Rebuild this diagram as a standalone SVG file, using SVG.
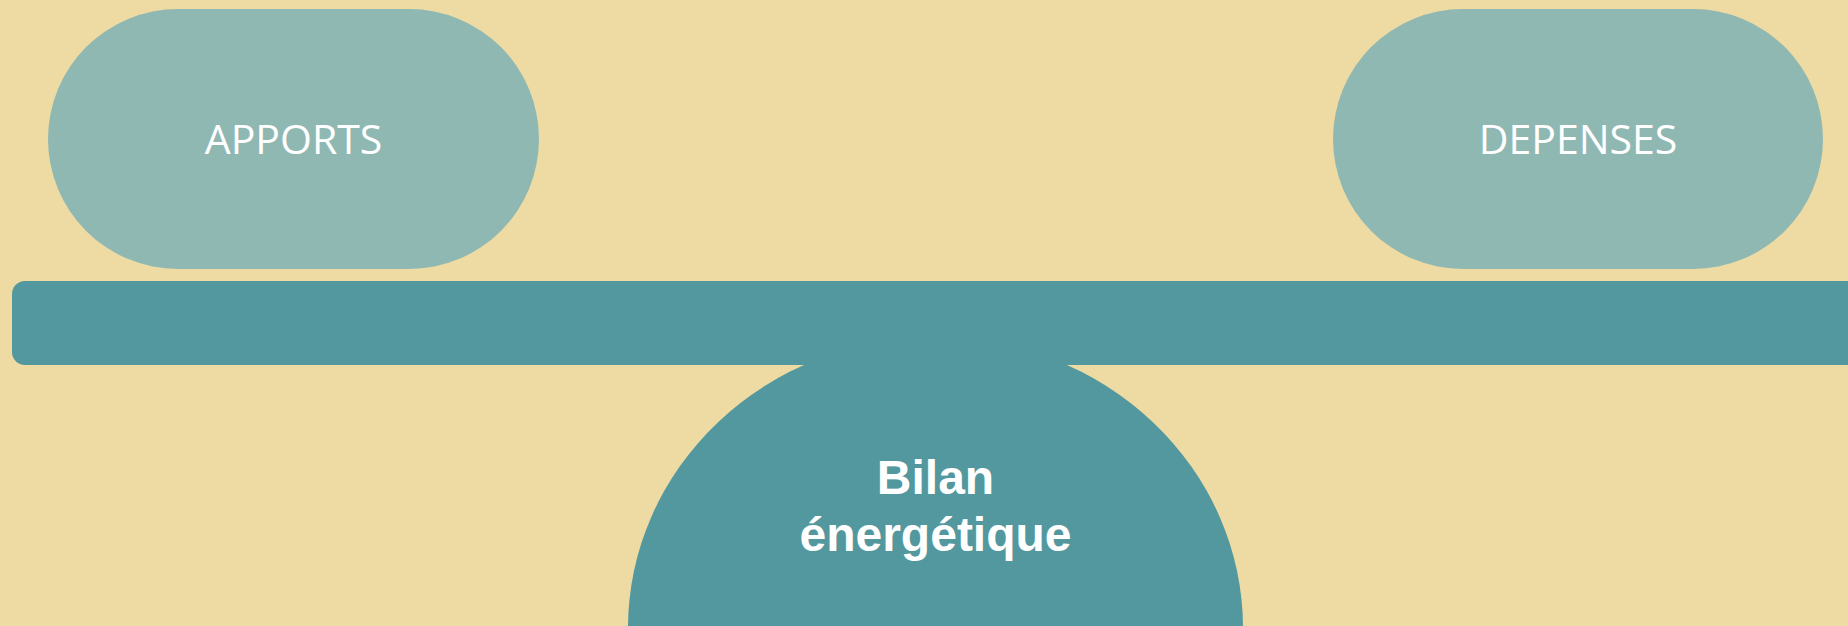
<svg xmlns="http://www.w3.org/2000/svg" width="1848" height="626" viewBox="0 0 1848 626">
  <style>
    .pill { fill: #90B8B3; }
    .beam { fill: #52989E; }
    .pill-label { font-family: "Open Sans", "Liberation Sans", sans-serif; font-size: 41px; fill: #FFFFFF; text-anchor: middle; }
    .base-label { font-family: "Liberation Sans", Arial, sans-serif; font-size: 48px; font-weight: bold; fill: #FFFFFF; text-anchor: middle; }
  </style>
  <!-- background -->
  <rect x="0" y="0" width="1848" height="626" fill="#EDDBA3"/>

  <!-- left pan -->
  <g id="apports">
    <rect class="pill" x="48" y="9" width="491" height="260" rx="130" ry="130"/>
    <text class="pill-label" x="293.5" y="154">APPORTS</text>
  </g>

  <!-- right pan -->
  <g id="depenses">
    <rect class="pill" x="1333" y="9" width="490" height="260" rx="130" ry="130"/>
    <text class="pill-label" x="1578" y="154">DEPENSES</text>
  </g>

  <!-- fulcrum dome -->
  <g id="bilan">
    <ellipse class="beam" cx="935.5" cy="628" rx="307.5" ry="291"/>
    <text class="base-label" x="935.5" y="494">Bilan</text>
    <text class="base-label" x="935.5" y="551">énergétique</text>
  </g>

  <!-- balance beam -->
  <g id="beam">
    <rect class="beam" x="12" y="281" width="1850" height="84" rx="13" ry="13"/>
  </g>
</svg>
